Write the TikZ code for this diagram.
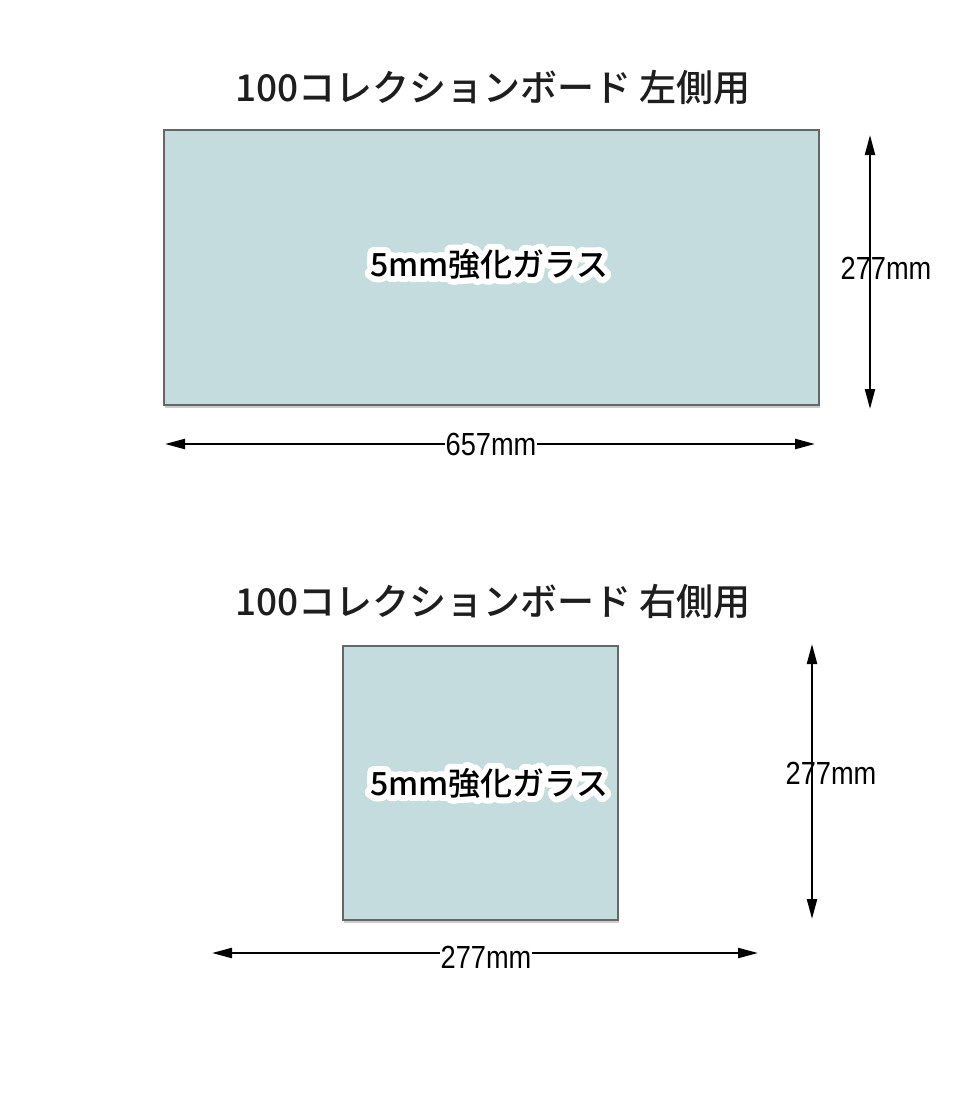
\documentclass[tikz,border=0pt]{standalone}
\usepackage{fontspec}
\setmainfont{Liberation Sans}
\newfontfamily\jpfont{Noto Sans CJK JP Medium}
\usetikzlibrary{arrows.meta,shadows}

\definecolor{glassfill}{HTML}{C4DCDD}
\definecolor{edgegray}{HTML}{666666}
\definecolor{titleink}{HTML}{1E1E1E}
% white outline round a text: stroke the glyphs with a wide line
\newcommand{\halotext}[1]{\special{pdf:literal direct 2 Tr 12 w 1 J 1 j}#1\special{pdf:literal direct 0 Tr}}

\tikzset{
	glass/.style={draw=edgegray,line width=2pt,fill=glassfill,inner sep=0pt,
		drop shadow={shadow xshift=1pt,shadow yshift=-3pt,opacity=0.4}},
	glasstext/.style={font=\jpfont\fontsize{32}{36}\selectfont,inner sep=0pt},
	glasshalo/.style={glasstext,text=white},
	heading/.style={font=\jpfont\fontsize{37}{42}\selectfont,text=titleink},
	dimline/.style={line width=2.2pt,{Triangle[length=20pt,width=10pt]}-{Triangle[length=20pt,width=10pt]}},
	dimtext/.style={font=\fontsize{32}{36}\selectfont,xscale=0.85,inner sep=1pt},
}

\begin{document}
\begin{tikzpicture}[x=1pt,y=-1pt]
		\fill[white] (0,0) rectangle (960,1100);
		\useasboundingbox (0,0) rectangle (960,1100);
%		\draw[help lines,step=50] (0,0) grid (960,1100);
		\path (493,88) coordinate (lefthead);
		\path (491.5,267.5) coordinate (leftmid);
		\path (489,264) coordinate (leftlabel);
		\path (870,135) coordinate (lefttop);
		\path (870,409) coordinate (leftbot);
		\path (165,444) coordinate (leftwest);
		\path (815,444) coordinate (lefteast);
		\path (493,602) coordinate (righthead);
		\path (480.5,783) coordinate (rightmid);
		\path (489,783) coordinate (rightlabel);
		\path (812,644) coordinate (righttop);
		\path (812,919) coordinate (rightbot);
		\path (212,953) coordinate (rightwest);
		\path (758,953) coordinate (righteast);

		% left board
		\draw (lefthead) node[heading] (leftheadtext) {100コレクションボード 左側用};
		\node[glass,minimum width=655pt,minimum height=275pt] (leftglass) at (leftmid) {};
		\draw (leftlabel) node[glasshalo] (leftglasshalo) {\halotext{5mm強化ガラス}};
		\draw (leftlabel) node[glasstext] (leftglasstext) {5mm強化ガラス};
		\draw[dimline] (lefttop) -- (leftbot);
		\draw (886,268) node[dimtext] (leftheight) {277mm};
		\draw[dimline] (leftwest) -- (lefteast);
		\draw (491,444) node[dimtext,fill=white] (leftwidth) {657mm};

		% right board
		\draw (righthead) node[heading] (rightheadtext) {100コレクションボード 右側用};
		\node[glass,minimum width=275pt,minimum height=274pt] (rightglass) at (rightmid) {};
		\draw (rightlabel) node[glasshalo] (rightglasshalo) {\halotext{5mm強化ガラス}};
		\draw (rightlabel) node[glasstext] (rightglasstext) {5mm強化ガラス};
		\draw[dimline] (righttop) -- (rightbot);
		\draw (831,773) node[dimtext] (rightheight) {277mm};
		\draw[dimline] (rightwest) -- (righteast);
		\draw (486,957) node[dimtext,fill=white] (rightwidth) {277mm};
	\end{tikzpicture}
\end{document}
